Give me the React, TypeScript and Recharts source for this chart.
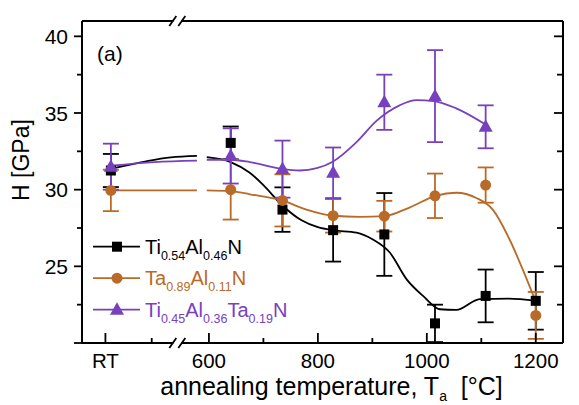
import React from 'react';
import { ComposedChart, XAxis, YAxis, Scatter, Line, ErrorBar, ReferenceDot } from 'recharts';

const FONT = '"Liberation Sans", Arial, sans-serif';
const BLACK = '#000000';
const ORANGE = '#B96A28';
const PURPLE = '#7741BE';

// axis ticks
const xTickValues = [410, 495, 600, 700, 800, 900, 1000, 1100, 1200];
const xTickLabels: Record<number, string> = { 410: 'RT', 600: '600', 800: '800', 1000: '1000', 1200: '1200' };
const yTickValues = [20, 22.5, 25, 27.5, 30, 32.5, 35, 37.5, 40];
const yMajorValues = [20, 25, 30, 35, 40];
const yTickLabels: Record<number, string> = { 25: '25', 30: '30', 35: '35', 40: '40' };
const xBreakValue = 542;

// measured points (RT plotted at 420)
const temps = [420, 640, 735, 828, 922, 1015, 1108, 1200];
const tiAlN = [31.25, 33.05, 28.7, 27.36, 27.08, 21.28, 23.07, 22.75];
const tiAlNErr = [1.08, 1.07, 1.45, 2.05, 2.7, 1.22, 1.72, 1.88];
const taAlN = [29.95, 30.0, 29.3, 28.3, 28.27, 29.6, 30.3, 21.8];
const taAlNErr = [1.35, 1.95, 1.7, 1.1, 1.0, 1.45, 1.15, 1.53];
const tiAlTaNTemps = [420, 640, 735, 828, 922, 1015, 1108];
const tiAlTaN = [31.5, 32.2, 31.34, 31.1, 35.7, 36.1, 34.1];
const tiAlTaNErr = [1.5, 1.8, 1.86, 1.65, 1.8, 3.0, 1.4];

// guide-to-the-eye curves (null = axis-break gap)
const tiAlNFitX = [420, 485, 530, 578, 587, 596, 640, 675, 700, 734, 770, 800, 828, 871, 901, 932, 963, 993, 1024, 1054, 1097, 1150, 1201];
const tiAlNFitY = [31.36, 31.85, 32.1, 32.2, null, 32.12, 31.8, 31.1, 30.3, 29.0, 28.0, 27.55, 27.35, 27.2, 26.75, 25.9, 24.15, 23.07, 22.2, 22.16, 22.86, 22.9, 22.75];
const taAlNFitX = [420, 578, 587, 596, 640, 675, 734, 779, 828, 877, 921, 969, 1016, 1054, 1091, 1121, 1152, 1176, 1201];
const taAlNFitY = [29.95, 29.95, null, 29.95, 29.9, 29.7, 29.3, 28.7, 28.3, 28.23, 28.27, 28.85, 29.6, 29.8, 29.46, 28.7, 26.75, 24.8, 22.6];
const tiAlTaNFitX = [420, 500, 578, 587, 596, 640, 675, 734, 767, 798, 828, 871, 908, 950, 981, 1013, 1054, 1110];
const tiAlTaNFitY = [31.56, 31.8, 31.9, null, 31.95, 31.95, 31.8, 31.35, 31.25, 31.4, 31.84, 33.1, 34.5, 35.5, 35.84, 35.78, 35.3, 34.2];

const pts = (xs: number[], ys: number[], es: number[]) => xs.map((x, i) => ({ x, y: ys[i], err: es[i] }));
const fit = (xs: number[], ys: (number | null)[]) => xs.map((x, i) => ({ x, y: ys[i] }));

const blackPts = pts(temps, tiAlN, tiAlNErr);
const orangePts = pts(temps, taAlN, taAlNErr);
const purplePts = pts(tiAlTaNTemps, tiAlTaN, tiAlTaNErr);
const blackFit = fit(tiAlNFitX, tiAlNFitY);
const orangeFit = fit(taAlNFitX, taAlNFitY);
const purpleFit = fit(tiAlTaNFitX, tiAlTaNFitY);

const isMajorX = (v: number) => xTickLabels[v] !== undefined;
const isMajorY = (v: number) => yMajorValues.includes(v);

const BottomTick = (p: any) => {
  const { x, y, payload } = p;
  const v = payload.value;
  const major = isMajorX(v);
  return (
    <g>
      <line x1={x} x2={x} y1={y} y2={y - (major ? 10 : 5)} stroke={BLACK} strokeWidth={1.8} />
      {major && (
        <text x={x} y={y + 25} textAnchor="middle" fontSize={20.5} fontFamily={FONT} fill={BLACK}>
          {xTickLabels[v]}
        </text>
      )}
    </g>
  );
};

const TopTick = (p: any) => {
  const { x, y, payload } = p;
  const major = isMajorX(payload.value);
  return <line x1={x} x2={x} y1={y} y2={y + (major ? 10 : 5)} stroke={BLACK} strokeWidth={1.8} />;
};

const LeftTick = (p: any) => {
  const { x, y, payload } = p;
  const v = payload.value;
  const major = isMajorY(v);
  return (
    <g>
      <line x1={x - (major ? 8 : 5)} x2={x} y1={y} y2={y} stroke={BLACK} strokeWidth={1.8} />
      {yTickLabels[v] && (
        <text x={x - 14} y={y + 7.5} textAnchor="end" fontSize={21} fontFamily={FONT} fill={BLACK}>
          {yTickLabels[v]}
        </text>
      )}
    </g>
  );
};

const RightTick = (p: any) => {
  const { x, y, payload } = p;
  const major = isMajorY(payload.value);
  return <line x1={x - (major ? 9 : 6)} x2={x} y1={y} y2={y} stroke={BLACK} strokeWidth={1.8} />;
};

const BreakMark = (p: any) => {
  const { cx, cy } = p;
  return (
    <g>
      <rect x={cx - 4} y={cy - 3} width={8} height={6} fill="#ffffff" />
      <line x1={cx - 8} y1={cy + 5} x2={cx - 1} y2={cy - 5} stroke={BLACK} strokeWidth={1.8} />
      <line x1={cx + 1} y1={cy + 5} x2={cx + 8} y2={cy - 5} stroke={BLACK} strokeWidth={1.8} />
    </g>
  );
};

const Square = (p: any) => <rect x={p.cx - 5} y={p.cy - 5} width={10} height={10} fill={BLACK} />;
const Dot = (p: any) => <circle cx={p.cx} cy={p.cy} r={5.5} fill={ORANGE} />;
const Tri = (p: any) => (
  <polygon points={`${p.cx},${p.cy - 7.5} ${p.cx - 7},${p.cy + 5} ${p.cx + 7},${p.cy + 5}`} fill={PURPLE} />
);

const XTitle = (p: any) => {
  const vb = p.viewBox;
  return (
    <text x={vb.x + vb.width / 2 + 9} y={vb.y + 52} textAnchor="middle" fontSize={25} fontFamily={FONT} fill={BLACK} style={{ whiteSpace: 'pre' }}>
      annealing temperature, T<tspan fontSize={14} dy={6}>a</tspan>
      <tspan dy={-6}>{'  [°C]'}</tspan>
    </text>
  );
};

const YTitle = (p: any) => {
  const vb = p.viewBox;
  const cx = 21;
  const cy = vb.y + vb.height / 2 - 22;
  return (
    <text x={cx} y={cy} transform={`rotate(-90, ${cx}, ${cy})`} textAnchor="middle" dominantBaseline="central" fontSize={23} fontFamily={FONT} fill={BLACK}>
      H [GPa]
    </text>
  );
};

const legendRows = [
  { color: BLACK, parts: [['Ti', '0.54'], ['Al', '0.46'], ['N', '']], marker: 'sq' },
  { color: ORANGE, parts: [['Ta', '0.89'], ['Al', '0.11'], ['N', '']], marker: 'ci' },
  { color: PURPLE, parts: [['Ti', '0.45'], ['Al', '0.36'], ['Ta', '0.19'], ['N', '']], marker: 'tr' },
];

const LegendOverlay = () => (
  <svg width={579} height={405} style={{ position: 'absolute', left: 0, top: 0, pointerEvents: 'none' }}>
    {legendRows.map((r, i) => {
      const cy = 246.7 + i * 31.5;
      const mx = 117;
      return (
        <g key={i}>
          <line x1={93} x2={140} y1={cy} y2={cy} stroke={r.color} strokeWidth={1.8} />
          {r.marker === 'sq' && <rect x={mx - 5} y={cy - 5} width={10} height={10} fill={r.color} />}
          {r.marker === 'ci' && <circle cx={mx} cy={cy} r={5.5} fill={r.color} />}
          {r.marker === 'tr' && (
            <polygon points={`${mx},${cy - 7.5} ${mx - 7},${cy + 5} ${mx + 7},${cy + 5}`} fill={r.color} />
          )}
          <text x={145} y={cy + 7} fontSize={20} fontFamily={FONT} fill={r.color}>
            {r.parts.map((pp, j) => (
              <React.Fragment key={j}>
                <tspan dy={j === 0 ? 0 : -6}>{pp[0]}</tspan>
                {pp[1] && (
                  <tspan fontSize={12.5} dy={6}>
                    {pp[1]}
                  </tspan>
                )}
              </React.Fragment>
            ))}
          </text>
        </g>
      );
    })}
    <text x={97} y={61} fontSize={21} fontFamily={FONT} fill={BLACK}>
      (a)
    </text>
  </svg>
);

export default function App() {
  return (
    <div style={{ position: 'absolute', left: 0, top: 0, width: 579, height: 405, background: '#ffffff' }}>
      <ComposedChart width={579} height={405} margin={{ top: 0, right: 0, bottom: 0, left: 0 }}>
        <XAxis
          dataKey="x"
          type="number"
          domain={[367, 1250]}
          allowDataOverflow
          ticks={xTickValues}
          interval={0}
          height={62}
          tickSize={0}
          tickMargin={0}
          tickLine={false}
          tick={<BottomTick />}
          axisLine={{ stroke: BLACK, strokeWidth: 2 }}
          label={XTitle}
        />
        <XAxis
          xAxisId="top"
          orientation="top"
          type="number"
          domain={[367, 1250]}
          allowDataOverflow
          ticks={xTickValues}
          interval={0}
          height={21}
          tickSize={0}
          tickMargin={0}
          tickLine={false}
          tick={<TopTick />}
          axisLine={{ stroke: BLACK, strokeWidth: 2 }}
        />
        <YAxis
          dataKey="y"
          type="number"
          domain={[20, 41]}
          allowDataOverflow
          ticks={yTickValues}
          interval={0}
          width={82}
          tickSize={0}
          tickMargin={0}
          tickLine={false}
          tick={<LeftTick />}
          axisLine={{ stroke: BLACK, strokeWidth: 2 }}
          label={YTitle}
        />
        <YAxis
          yAxisId="right"
          orientation="right"
          type="number"
          domain={[20, 41]}
          allowDataOverflow
          ticks={yTickValues}
          interval={0}
          width={16}
          tickSize={0}
          tickMargin={0}
          tickLine={false}
          tick={<RightTick />}
          axisLine={{ stroke: BLACK, strokeWidth: 2 }}
        />
        <Line data={blackFit} dataKey="y" type="monotone" stroke={BLACK} strokeWidth={1.8} dot={false} activeDot={false} connectNulls={false} isAnimationActive={false} />
        <Line data={orangeFit} dataKey="y" type="monotone" stroke={ORANGE} strokeWidth={1.8} dot={false} activeDot={false} connectNulls={false} isAnimationActive={false} />
        <Line data={purpleFit} dataKey="y" type="monotone" stroke={PURPLE} strokeWidth={1.8} dot={false} activeDot={false} connectNulls={false} isAnimationActive={false} />
        <Scatter data={blackPts} dataKey="y" shape={Square} isAnimationActive={false}>
          <ErrorBar dataKey="err" direction="y" width={8} stroke={BLACK} strokeWidth={1.8} />
        </Scatter>
        <Scatter data={orangePts} dataKey="y" shape={Dot} isAnimationActive={false}>
          <ErrorBar dataKey="err" direction="y" width={8} stroke={ORANGE} strokeWidth={1.8} />
        </Scatter>
        <Scatter data={purplePts} dataKey="y" shape={Tri} isAnimationActive={false}>
          <ErrorBar dataKey="err" direction="y" width={8} stroke={PURPLE} strokeWidth={1.8} />
        </Scatter>
        <ReferenceDot x={xBreakValue} y={20} ifOverflow="visible" shape={BreakMark} />
        <ReferenceDot x={xBreakValue} y={41} ifOverflow="visible" shape={BreakMark} />
      </ComposedChart>
      <LegendOverlay />
    </div>
  );
}
